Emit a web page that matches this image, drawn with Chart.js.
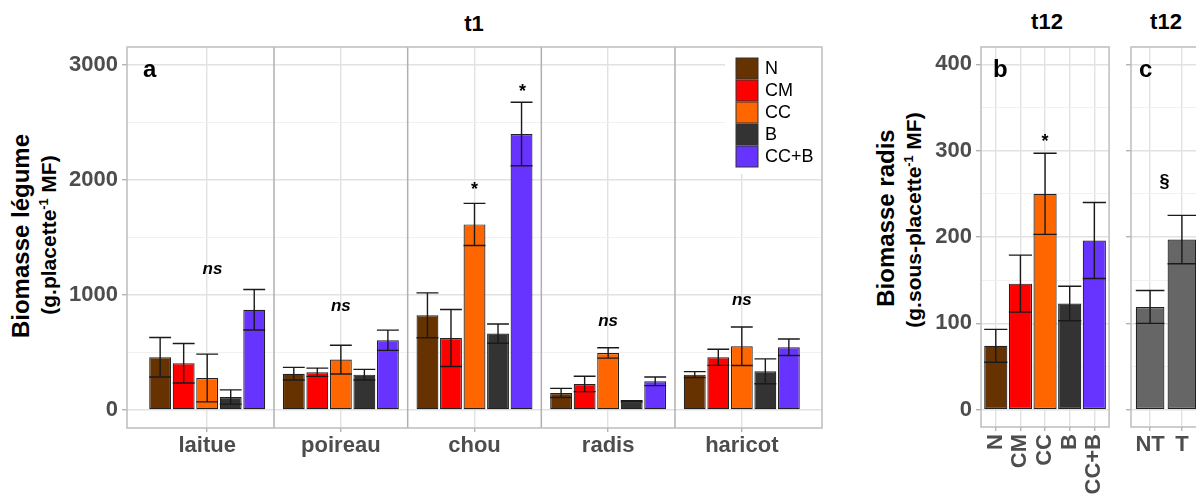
<!DOCTYPE html>
<html lang="fr">
<head>
<meta charset="utf-8">
<title>Biomasse légume et radis</title>
<script src="https://cdn.jsdelivr.net/npm/chart.js@4.4.1/dist/chart.umd.min.js"></script>
<style>
  html, body { margin: 0; padding: 0; background: #fff; }
  #page { position: relative; width: 1196px; height: 495px; overflow: hidden; background: #fff;
          font-family: 'Liberation Sans', Arial, sans-serif; }
  canvas { position: absolute; top: 0; }
  .t { position: absolute; font-weight: bold; color: #000; text-align: center; white-space: nowrap; }
  .rot { width: 300px; height: 30px; line-height: 30px; transform: rotate(-90deg); }
  sup { font-size: 0.6em; line-height: 0; }
</style>
</head>
<body>
<div id="page">
  <div class="t" style="left:424px;top:9px;width:100px;font-size:22px;line-height:30px">t1</div>
  <div class="t" style="left:997px;top:7px;width:100px;font-size:22px;line-height:30px">t12</div>
  <div class="t" style="left:1116px;top:7px;width:100px;font-size:22px;line-height:30px">t12</div>

  <div class="t rot" style="left:-129px;top:221px;font-size:24px">Biomasse légume</div>
  <div class="t rot" style="left:-101px;top:220px;font-size:21px">(g.placette<sup>-1</sup> MF)</div>
  <div class="t rot" style="left:736px;top:203px;font-size:24px">Biomasse radis</div>
  <div class="t rot" style="left:764px;top:205px;font-size:21px">(g.sous-placette<sup>-1</sup> MF)</div>

  <canvas id="chartA" width="830" height="495" style="left:0"></canvas>
  <canvas id="chartB" width="200" height="495" style="left:925px"></canvas>
  <canvas id="chartC" width="100" height="495" style="left:1110px"></canvas>
</div>

<script>
// --- panneau a : t1, biomasse par légume ---
var legumes = ["laitue", "poireau", "chou", "radis", "haricot"];
var traitements = ["N", "CM", "CC", "B", "CC+B"];
var couleurs = ["#663300", "#FF0000", "#FF6600", "#333333", "#6633FF"];

var moyN   = [458, 315, 823, 148, 307];
var moyCM  = [406, 328, 626, 226, 458];
var moyCC  = [278, 438, 1614, 496, 554];
var moyB   = [113, 307, 664, 76, 336];
var moyCCB = [872, 606, 2400, 249, 545];

var seN   = [172, 55, 195, 40, 26];
var seCM  = [172, 36, 248, 67, 70];
var seCC  = [208, 125, 183, 45, 168];
var seB   = [62, 46, 84, 5, 108];
var seCCB = [176, 88, 276, 37, 72];

var ticksA = [0, 500, 1000, 1500, 2000, 2500, 3000];
var notesAx = [0.04, 1, 2, 2.36, 3, 4];
var notesAy = [1226, 898, 1913, 2765, 768, 950];
var notesAt = ["ns", "ns", "*", "*", "ns", "ns"];

// --- panneau b : t12, biomasse radis par traitement ---
var moyRadis = [74, 146, 250, 123, 196];
var seRadis  = [19, 33, 47, 20, 44];

// --- panneau c : t12, NT / T ---
var groupesC = ["NT", "T"];
var moyC = [119, 197];
var seC  = [19, 28];

var ticksB = [0, 50, 100, 150, 200, 250, 300, 350, 400];

var police = "'Liberation Sans', Arial, sans-serif";
var gris = "#4d4d4d";
Chart.defaults.font.family = police;

function yScale(min, max, ticks, pas, labels, largeur) {
  var majeur = function (c) { return c.tick && c.tick.value % pas === 0; };
  return {
    type: "linear", min: min, max: max,
    afterBuildTicks: function (s) { s.ticks = ticks.map(function (v) { return { value: v }; }); },
    afterFit: function (s) { s.width = largeur; },
    border: { display: false },
    grid: {
      color: function (c) { return majeur(c) ? "#e2e2e2" : "#efefef"; },
      lineWidth: function (c) { return majeur(c) ? 1.4 : 0.9; },
      tickColor: function (c) { return majeur(c) ? "#b3b3b3" : "rgba(0,0,0,0)"; },
      tickLength: 5
    },
    ticks: {
      padding: 4, color: gris, font: { size: 22, weight: "bold" },
      callback: function (v) { return labels && v % pas === 0 ? String(v) : ""; }
    }
  };
}

function xScale(cats, rot, hauteur, pad) {
  return {
    type: "linear", min: -0.6, max: cats.length - 0.4, offset: false,
    afterBuildTicks: function (s) { s.ticks = cats.map(function (c, i) { return { value: i }; }); },
    afterFit: function (s) { s.height = hauteur; },
    border: { display: false },
    grid: { offset: false, color: "#e2e2e2", lineWidth: 1.4, tickColor: "#b3b3b3", tickLength: 4 },
    ticks: {
      padding: pad, autoSkip: false, minRotation: rot, maxRotation: rot,
      color: gris, font: { size: 22, weight: "bold" },
      callback: function (v) { return cats[v]; }
    }
  };
}

function panneau(cfg) {
  return {
    id: "panneau",
    beforeDatasetsDraw: function (chart) {
      var ctx = chart.ctx, ca = chart.chartArea, x = chart.scales.x;
      ctx.save();
      ctx.strokeStyle = "#b0b0b0";
      ctx.lineWidth = 1.5;
      (cfg.separateurs || []).forEach(function (v) {
        var px = x.getPixelForValue(v);
        ctx.beginPath(); ctx.moveTo(px, ca.top); ctx.lineTo(px, ca.bottom); ctx.stroke();
      });
      ctx.restore();
    },
    afterDatasetsDraw: function (chart) {
      var ctx = chart.ctx, y = chart.scales.y;
      ctx.save();
      ctx.strokeStyle = "#1a1a1a";
      ctx.lineWidth = 1.4;
      chart.data.datasets.forEach(function (ds, d) {
        chart.getDatasetMeta(d).data.forEach(function (bar, i) {
          var m = ds.data[i].y, e = ds.se[i];
          var yt = y.getPixelForValue(m + e), yb = y.getPixelForValue(m - e), h = bar.width / 2;
          ctx.beginPath();
          ctx.moveTo(bar.x, yt); ctx.lineTo(bar.x, yb);
          ctx.moveTo(bar.x - h, yt); ctx.lineTo(bar.x + h, yt);
          ctx.moveTo(bar.x - h, yb); ctx.lineTo(bar.x + h, yb);
          ctx.stroke();
        });
      });
      ctx.restore();
    },
    afterDraw: function (chart) {
      var ctx = chart.ctx, ca = chart.chartArea, x = chart.scales.x, y = chart.scales.y;
      ctx.save();
      if (cfg.legende) {
        ctx.fillStyle = "#fff";
        ctx.fillRect(ca.right - 97, ca.top + 1, 96, 126);
        traitements.forEach(function (t, k) {
          var by = ca.top + 11 + k * 22;
          ctx.fillStyle = couleurs[k];
          ctx.fillRect(ca.right - 86, by, 22, 21);
          ctx.strokeStyle = "#333";
          ctx.lineWidth = 1;
          ctx.strokeRect(ca.right - 86, by, 22, 21);
          ctx.fillStyle = "#000";
          ctx.font = "18px " + police;
          ctx.textBaseline = "middle";
          ctx.textAlign = "left";
          ctx.fillText(t, ca.right - 57, by + 11);
        });
      }
      ctx.strokeStyle = "#bdbdbd";
      ctx.lineWidth = 1.5;
      ctx.strokeRect(ca.left, ca.top, ca.right - ca.left, ca.bottom - ca.top);

      ctx.fillStyle = "#000";
      ctx.font = "bold 24px " + police;
      ctx.textAlign = "left";
      ctx.textBaseline = "alphabetic";
      ctx.fillText(cfg.lettre, ca.left + cfg.dx, ca.top + 30);

      ctx.textAlign = "center";
      ctx.textBaseline = "middle";
      cfg.notesX.forEach(function (nx, i) {
        var txt = cfg.notesT[i];
        ctx.font = (txt === "ns" ? "italic bold 17px " : "bold 18px ") + police;
        ctx.fillText(txt, x.getPixelForValue(nx), y.getPixelForValue(cfg.notesY[i]));
      });
      ctx.restore();
    }
  };
}

function points(vals) {
  return vals.map(function (v, i) { return { x: i, y: v }; });
}

var moyennes = [moyN, moyCM, moyCC, moyB, moyCCB];
var erreurs = [seN, seCM, seCC, seB, seCCB];

var commun = {
  responsive: false,
  animation: false,
  plugins: { legend: { display: false }, tooltip: { enabled: false } }
};

new Chart(document.getElementById("chartA"), {
  type: "bar",
  data: {
    datasets: traitements.map(function (t, k) {
      return {
        label: t,
        data: points(moyennes[k]),
        se: erreurs[k],
        backgroundColor: couleurs[k],
        borderColor: "#222",
        borderWidth: 1.2,
        borderSkipped: false,
        categoryPercentage: 0.88,
        barPercentage: 0.93
      };
    })
  },
  options: Object.assign({}, commun, {
    layout: { padding: { left: 0, top: 47, right: 8, bottom: 0 } },
    scales: {
      x: xScale(legumes, 0, 67, 1),
      y: yScale(-157, 3157, ticksA, 1000, true, 127)
    }
  }),
  plugins: [panneau({
    separateurs: [0.5, 1.5, 2.5, 3.5], legende: true, lettre: "a", dx: 16,
    notesX: notesAx, notesY: notesAy, notesT: notesAt
  })]
});

new Chart(document.getElementById("chartB"), {
  type: "bar",
  data: {
    datasets: [{
      label: "radis",
      data: points(moyRadis),
      se: seRadis,
      backgroundColor: couleurs,
      borderColor: "#222",
      borderWidth: 1.2,
      borderSkipped: false,
      categoryPercentage: 0.94,
      barPercentage: 1
    }]
  },
  options: Object.assign({}, commun, {
    layout: { padding: { left: 0, top: 47, right: 11, bottom: 0 } },
    scales: {
      x: xScale(traitements, 90, 68, 3),
      y: yScale(-20, 420, ticksB, 100, true, 56)
    }
  }),
  plugins: [panneau({
    lettre: "b", dx: 12, notesX: [2], notesY: [310], notesT: ["*"]
  })]
});

new Chart(document.getElementById("chartC"), {
  type: "bar",
  data: {
    datasets: [{
      label: "NT/T",
      data: points(moyC),
      se: seC,
      backgroundColor: "#666666",
      borderColor: "#222",
      borderWidth: 1.2,
      borderSkipped: false,
      categoryPercentage: 0.9,
      barPercentage: 1
    }]
  },
  options: Object.assign({}, commun, {
    layout: { padding: { left: 0, top: 47, right: 9, bottom: 0 } },
    scales: {
      x: xScale(groupesC, 0, 68, 1),
      y: yScale(-20, 420, ticksB, 100, false, 21)
    }
  }),
  plugins: [panneau({
    lettre: "c", dx: 8, notesX: [0.45], notesY: [264], notesT: ["§"]
  })]
});
</script>
</body>
</html>
